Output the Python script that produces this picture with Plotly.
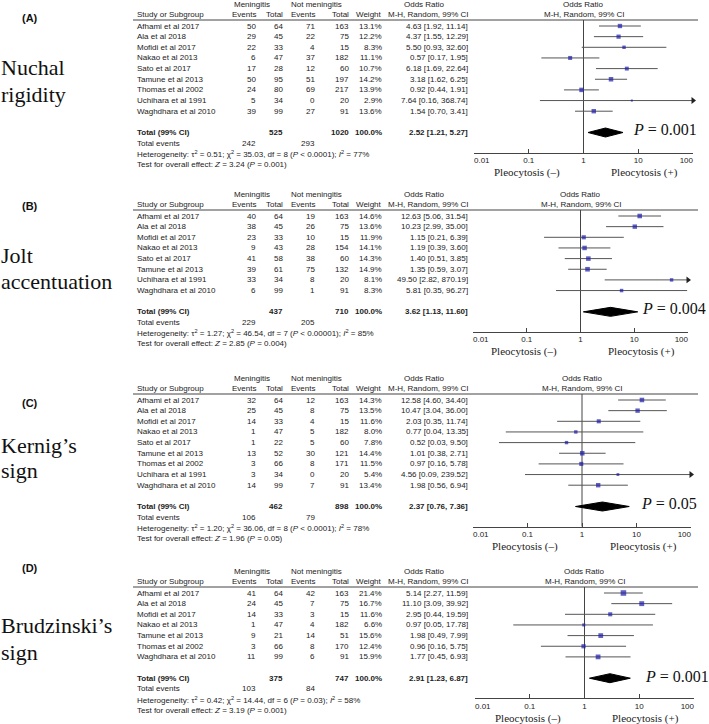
import plotly.graph_objects as go

W, H = 709, 724

# ---------------- data ----------------
# (A) Nuchal rigidity
studies_A = ["Afhami et al 2017", "Ala et al 2018", "Mofidi et al 2017", "Nakao et al 2013",
             "Sato et al 2017", "Tamune et al 2013", "Thomas et al 2002", "Uchihara et al 1991",
             "Waghdhara et al 2010"]
men_events_A = [50, 29, 22, 6, 17, 50, 24, 5, 39]
men_total_A = [64, 45, 33, 47, 28, 95, 80, 34, 99]
not_events_A = [71, 22, 4, 37, 12, 51, 69, 0, 27]
not_total_A = [163, 75, 15, 182, 60, 197, 217, 20, 91]
weight_A = [13.1, 12.2, 8.3, 11.1, 10.7, 14.2, 13.9, 2.9, 13.6]
or_A = [4.63, 4.37, 5.50, 0.57, 6.18, 3.18, 0.92, 7.64, 1.54]
lo_A = [1.92, 1.55, 0.93, 0.17, 1.69, 1.62, 0.44, 0.16, 0.70]
hi_A = [11.14, 12.29, 32.60, 1.95, 22.64, 6.25, 1.91, 368.74, 3.41]
totals_A = [525, 1020]
total_or_A = [2.52, 1.21, 5.27]
total_events_A = [242, 293]
het_A = [0.51, 35.03, 8, "&lt; 0.0001", 77]
z_A = [3.24, "0.001"]

# (B) Jolt accentuation
studies_B = ["Afhami et al 2017", "Ala et al 2018", "Mofidi et al 2017", "Nakao et al 2013",
             "Sato et al 2017", "Tamune et al 2013", "Uchihara et al 1991", "Waghdhara et al 2010"]
men_events_B = [40, 38, 23, 9, 41, 39, 33, 6]
men_total_B = [64, 45, 33, 43, 58, 61, 34, 99]
not_events_B = [19, 26, 10, 28, 38, 75, 8, 1]
not_total_B = [163, 75, 15, 154, 60, 132, 20, 91]
weight_B = [14.6, 13.6, 11.9, 14.1, 14.3, 14.9, 8.1, 8.3]
or_B = [12.63, 10.23, 1.15, 1.19, 1.40, 1.35, 49.50, 5.81]
lo_B = [5.06, 2.99, 0.21, 0.39, 0.51, 0.59, 2.82, 0.35]
hi_B = [31.54, 35.00, 6.39, 3.60, 3.85, 3.07, 870.19, 96.27]
totals_B = [437, 710]
total_or_B = [3.62, 1.13, 11.60]
total_events_B = [229, 205]
het_B = [1.27, 46.54, 7, "&lt; 0.00001", 85]
z_B = [2.85, "0.004"]

# (C) Kernig's sign
studies_C = ["Afhami et al 2017", "Ala et al 2018", "Mofidi et al 2017", "Nakao et al 2013",
             "Sato et al 2017", "Tamune et al 2013", "Thomas et al 2002", "Uchihara et al 1991",
             "Waghdhara et al 2010"]
men_events_C = [32, 25, 14, 1, 1, 13, 3, 3, 14]
men_total_C = [64, 45, 33, 47, 22, 52, 66, 34, 99]
not_events_C = [12, 8, 4, 5, 5, 30, 8, 0, 7]
not_total_C = [163, 75, 15, 182, 60, 121, 171, 20, 91]
weight_C = [14.3, 13.5, 11.6, 8.0, 7.8, 14.4, 11.5, 5.4, 13.4]
or_C = [12.58, 10.47, 2.03, 0.77, 0.52, 1.01, 0.97, 4.56, 1.98]
lo_C = [4.60, 3.04, 0.35, 0.04, 0.03, 0.38, 0.16, 0.09, 0.56]
hi_C = [34.40, 36.00, 11.74, 13.35, 9.50, 2.71, 5.78, 239.52, 6.94]
totals_C = [462, 898]
total_or_C = [2.37, 0.76, 7.36]
total_events_C = [106, 79]
het_C = [1.20, 36.06, 8, "&lt; 0.0001", 78]
z_C = [1.96, "0.05"]

# (D) Brudzinski's sign
studies_D = ["Afhami et al 2017", "Ala et al 2018", "Mofidi et al 2017", "Nakao et al 2013",
             "Tamune et al 2013", "Thomas et al 2002", "Waghdhara et al 2010"]
men_events_D = [41, 24, 14, 1, 9, 3, 11]
men_total_D = [64, 45, 33, 47, 21, 66, 99]
not_events_D = [42, 7, 3, 4, 14, 8, 6]
not_total_D = [163, 75, 15, 182, 51, 170, 91]
weight_D = [21.4, 16.7, 11.6, 6.6, 15.6, 12.4, 15.9]
or_D = [5.14, 11.10, 2.95, 0.97, 1.98, 0.96, 1.77]
lo_D = [2.27, 3.09, 0.44, 0.05, 0.49, 0.16, 0.45]
hi_D = [11.59, 39.92, 19.59, 17.78, 7.99, 5.75, 6.93]
totals_D = [375, 747]
total_or_D = [2.91, 1.23, 6.87]
total_events_D = [103, 84]
het_D = [0.42, 14.44, 6, "= 0.03", 58]
z_D = [3.19, "0.001"]

tick_vals = [0.01, 0.1, 1, 10, 100]
tick_text = ["\u00a0" * 7 + "0.01", "0.1", "1", "10", "100" + "\u00a0" * 6]

# ---------------- styling / layout ----------------
SANS = "Liberation Sans, Arial, sans-serif"
SERIF = "Liberation Serif, Times New Roman, serif"
TXT = "#222222"
LINE = "#444444"
BLUE = "#1c1ca8"
ROW = 10.65

panels = [
    dict(studies=studies_A, me=men_events_A, mt=men_total_A, ne=not_events_A, nt=not_total_A,
         w=weight_A, orv=or_A, lo=lo_A, hi=hi_A, tot=totals_A, tor=total_or_A, tev=total_events_A,
         het=het_A, z=z_A, r0=26, dom=(474, 693), lab="(A)", lab_y=18,
         title=[("Nuchal", 67), ("rigidity", 94)], p_x=633, p_dy=-3),
    dict(studies=studies_B, me=men_events_B, mt=men_total_B, ne=not_events_B, nt=not_total_B,
         w=weight_B, orv=or_B, lo=lo_B, hi=hi_B, tot=totals_B, tor=total_or_B, tev=total_events_B,
         het=het_B, z=z_B, r0=216, dom=(473, 688), lab="(B)", lab_y=206,
         title=[("Jolt", 255), ("accentuation", 281)], p_x=642, p_dy=-3),
    dict(studies=studies_C, me=men_events_C, mt=men_total_C, ne=not_events_C, nt=not_total_C,
         w=weight_C, orv=or_C, lo=lo_C, hi=hi_C, tot=totals_C, tor=total_or_C, tev=total_events_C,
         het=het_C, z=z_C, r0=400, dom=(473, 691), lab="(C)", lab_y=403,
         title=[("Kernig\u2019s", 445), ("sign", 470)], p_x=641, p_dy=-3),
    dict(studies=studies_D, me=men_events_D, mt=men_total_D, ne=not_events_D, nt=not_total_D,
         w=weight_D, orv=or_D, lo=lo_D, hi=hi_D, tot=totals_D, tor=total_or_D, tev=total_events_D,
         het=het_D, z=z_D, r0=593, dom=(475, 694), lab="(D)", lab_y=568,
         title=[("Brudzinski\u2019s", 625), ("sign", 652)], p_x=645, p_dy=-2),
]

# column x positions (pixels)
X_STUDY = 137
X_ME, X_MT, X_NE, X_NT, X_W, X_OR = 256, 283, 315, 349, 382, 468

fig = go.Figure()
annotations = []
shapes = []
layout_axes = {}


def txt(x, y, s, anchor="left", size=8, family=SANS, color=TXT):
    return dict(x=x / W, y=y, xref="paper", yref="y", text=s, showarrow=False,
                xanchor=anchor, yanchor="middle", align=anchor if anchor != "center" else "center",
                borderpad=0, borderwidth=0,
                font=dict(family=family, size=size, color=color))


for k, p in enumerate(panels):
    xa = "x" if k == 0 else f"x{k + 1}"
    axname = "xaxis" if k == 0 else f"xaxis{k + 1}"
    n = len(p["studies"])
    r0 = p["r0"]
    rows_y = [r0 + i * ROW for i in range(n)]
    y_total = r0 + (n + 1) * ROW
    y_tev = r0 + (n + 2) * ROW
    y_het = r0 + (n + 3) * ROW
    y_test = r0 + (n + 4) * ROW
    y_axis = y_total + 20
    y_under = r0 - 6
    x0p, x1p = p["dom"]
    x_one = (x0p + x1p) / 2

    # left big labels
    annotations.append(txt(30, p["lab_y"], "<b>" + p["lab"] + "</b>", anchor="center", size=11,
                           color="#111"))
    for s, yy in p["title"]:
        annotations.append(txt(1, yy, s, size=22, family=SERIF, color="#111"))

    # headers
    annotations.append(txt(252, r0 - 22, "Meningitis", anchor="center"))
    annotations.append(txt(316, r0 - 22, "Not meningitis", anchor="center"))
    annotations.append(txt(425, r0 - 22, "Odds Ratio", anchor="center"))
    annotations.append(txt(x_one, r0 - 22, "Odds Ratio", anchor="center"))
    hy = r0 - 11.5
    annotations.append(txt(X_STUDY, hy, "Study or Subgroup"))
    for xx, s in [(X_ME, "Events"), (X_MT, "Total"), (X_NE, "Events"), (X_NT, "Total"),
                  (X_W, "Weight"), (X_OR, "M-H, Random, 99% CI")]:
        annotations.append(txt(xx, hy, s, anchor="right"))
    annotations.append(txt(x_one, hy, "M-H, Random, 99% CI", anchor="center"))
    shapes.append(dict(type="line", xref="paper", yref="y", x0=133 / W, x1=698 / W,
                       y0=y_under, y1=y_under, line=dict(color=LINE, width=1)))

    # study rows
    for i in range(n):
        yy = rows_y[i]
        annotations.append(txt(X_STUDY, yy, p["studies"][i]))
        annotations.append(txt(X_ME, yy, str(p["me"][i]), anchor="right"))
        annotations.append(txt(X_MT, yy, str(p["mt"][i]), anchor="right"))
        annotations.append(txt(X_NE, yy, str(p["ne"][i]), anchor="right"))
        annotations.append(txt(X_NT, yy, str(p["nt"][i]), anchor="right"))
        annotations.append(txt(X_W, yy, f"{p['w'][i]:.1f}%", anchor="right"))
        annotations.append(txt(X_OR, yy, f"{p['orv'][i]:.2f} [{p['lo'][i]:.2f}, {p['hi'][i]:.2f}]",
                               anchor="right"))

    # totals
    annotations.append(txt(X_STUDY, y_total, "<b>Total (99% CI)</b>"))
    annotations.append(txt(X_MT, y_total, f"<b>{p['tot'][0]}</b>", anchor="right"))
    annotations.append(txt(X_NT, y_total, f"<b>{p['tot'][1]}</b>", anchor="right"))
    annotations.append(txt(X_W, y_total, "<b>100.0%</b>", anchor="right"))
    t = p["tor"]
    annotations.append(txt(X_OR, y_total, f"<b>{t[0]:.2f} [{t[1]:.2f}, {t[2]:.2f}]</b>", anchor="right"))
    annotations.append(txt(X_STUDY, y_tev, "Total events"))
    annotations.append(txt(X_ME, y_tev, str(p["tev"][0]), anchor="right"))
    annotations.append(txt(X_NE, y_tev, str(p["tev"][1]), anchor="right"))
    h = p["het"]
    het_s = (f"Heterogeneity: \u03c4<sup>2</sup> = {h[0]:.2f}; \u03c7<sup>2</sup> = {h[1]:.2f}, "
             f"df = {h[2]} (<i>P</i> {h[3]}); <i>I</i><sup>2</sup> = {h[4]}%")
    annotations.append(txt(X_STUDY, y_het, het_s))
    z = p["z"]
    annotations.append(txt(X_STUDY, y_test, f"Test for overall effect: <i>Z</i> = {z[0]:.2f} (<i>P</i> = {z[1]})"))

    # P value on forest
    annotations.append(txt(p["p_x"], y_total + p["p_dy"], f"<i>P</i> = {z[1]}", size=16,
                           family=SERIF, color="#111"))
    # pleocytosis labels
    annotations.append(txt(x_one - 57, y_axis + 20, "Pleocytosis (\u2013)", anchor="center",
                           size=11, family=SERIF, color="#222"))
    annotations.append(txt(x_one + 61, y_axis + 20, "Pleocytosis (+)", anchor="center",
                           size=11, family=SERIF, color="#222"))

    # ---- forest traces ----
    fig.add_trace(go.Scatter(x=[1, 1], y=[y_under, y_axis], mode="lines", xaxis=xa, yaxis="y",
                             line=dict(color=LINE, width=1), hoverinfo="skip", cliponaxis=False))
    cx, cy = [], []
    ax_, ay_ = [], []
    for i in range(n):
        hi_c = min(p["hi"][i], 100)
        cx += [p["lo"][i], hi_c, None]
        cy += [rows_y[i], rows_y[i], None]
        if p["hi"][i] > 100:
            ax_.append(100)
            ay_.append(rows_y[i])
    fig.add_trace(go.Scatter(x=cx, y=cy, mode="lines", xaxis=xa, yaxis="y",
                             line=dict(color="#555555", width=1), hoverinfo="skip", cliponaxis=False))
    if ax_:
        fig.add_trace(go.Scatter(x=ax_, y=ay_, mode="markers", xaxis=xa, yaxis="y",
                                 marker=dict(symbol="triangle-right", size=6, color="#222"),
                                 hoverinfo="skip", cliponaxis=False))
    fig.add_trace(go.Scatter(x=p["orv"], y=rows_y, mode="markers", xaxis=xa, yaxis="y",
                             marker=dict(symbol="square", color=BLUE,
                                         size=[1.2 * (w ** 0.5) for w in p["w"]],
                                         line=dict(width=0)),
                             hoverinfo="skip", cliponaxis=False))
    fig.add_trace(go.Scatter(x=[t[1], t[0], t[2], t[0], t[1]],
                             y=[y_total, y_total - 4.5, y_total, y_total + 4.5, y_total],
                             mode="lines", fill="toself", fillcolor="#000", xaxis=xa, yaxis="y",
                             line=dict(color="#000", width=1), hoverinfo="skip", cliponaxis=False))

    layout_axes[axname] = dict(
        type="log", domain=[x0p / W, x1p / W], range=[-2, 2], anchor="free",
        position=1 - y_axis / H, showline=True, linecolor=LINE, linewidth=1,
        ticks="inside", ticklen=4, tickcolor=LINE, tickwidth=1,
        tickvals=tick_vals, ticktext=tick_text, automargin=False,
        tickfont=dict(family=SANS, size=8, color=TXT),
        showgrid=False, zeroline=False, fixedrange=True)

fig.update_layout(
    template="none",
    width=W, height=H, autosize=False, margin=dict(l=0, r=0, t=0, b=0, pad=0),
    paper_bgcolor="white", plot_bgcolor="rgba(0,0,0,0)", showlegend=False,
    hovermode=False,
    yaxis=dict(range=[H, 0], domain=[0, 1], visible=False, fixedrange=True, anchor="x",
               automargin=False),
    annotations=annotations, shapes=shapes,
    **layout_axes,
)

fig.write_html("out.html", config={"displayModeBar": False},
               post_script="document.body.style.margin='0px';")
